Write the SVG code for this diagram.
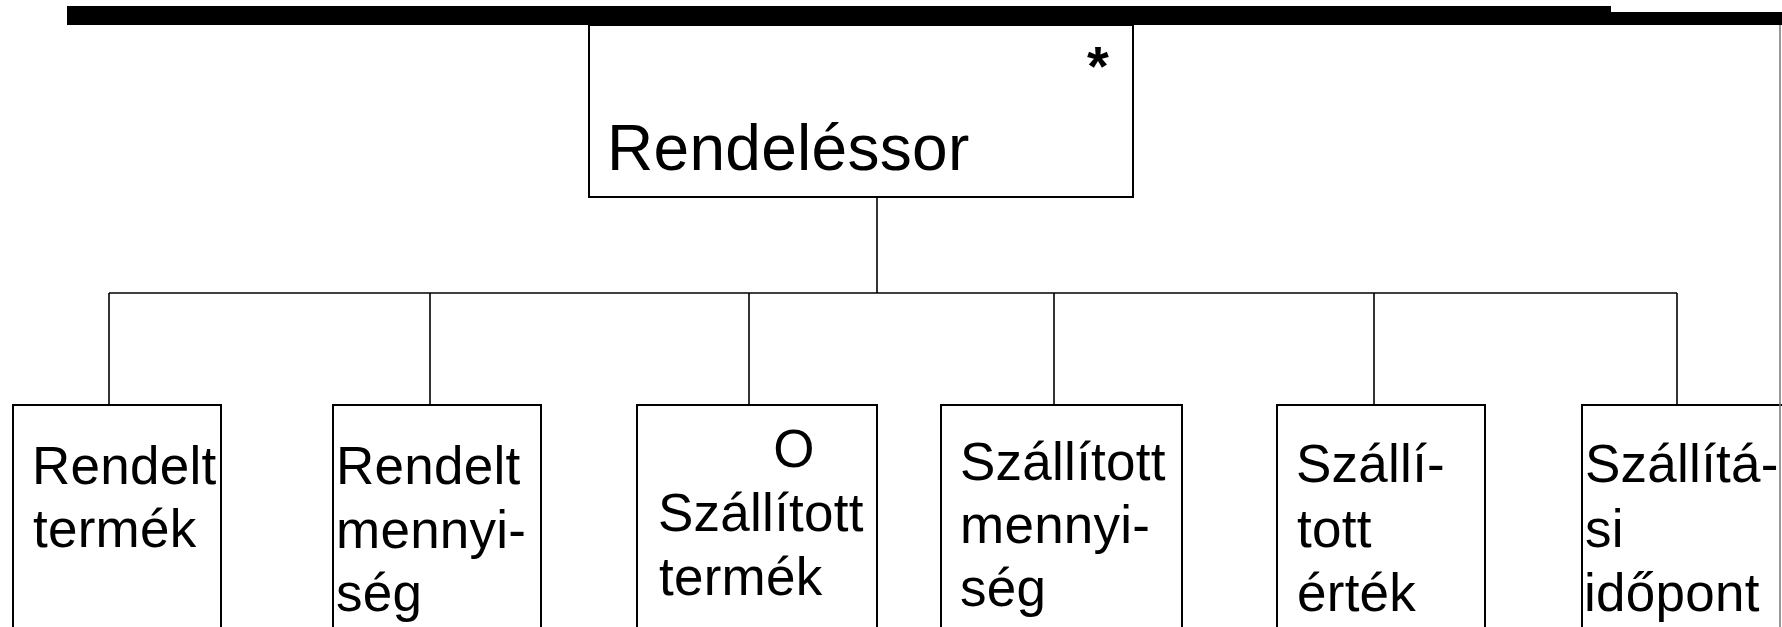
<svg xmlns="http://www.w3.org/2000/svg" width="1782" height="627" viewBox="0 0 1782 627">
  <style>
    .box { fill: #ffffff; stroke: #000000; stroke-width: 2; }
    .conn { fill: none; stroke: #000000; stroke-width: 1.6; }
    .lbl { font-family: "Liberation Sans", Arial, sans-serif; font-size: 53px; letter-spacing: 0.25px; fill: #000000; }
    .title { font-family: "Liberation Sans", Arial, sans-serif; font-size: 64px; letter-spacing: 0.3px; fill: #000000; }
    .mark { font-family: "Liberation Sans", Arial, sans-serif; font-size: 56px; font-weight: bold; fill: #000000; }
  </style>
  <rect width="1782" height="627" fill="#ffffff"/>

  <!-- heading bar -->
  <g id="header-bar">
    <rect x="67" y="6" width="1544" height="19" fill="#000000"/>
    <rect x="1610" y="12" width="172" height="13" fill="#000000"/>
  </g>

  <!-- connectors -->
  <g id="connectors">
    <path class="conn" d="M877 198 V293"/>
    <path class="conn" d="M109 293 H1677"/>
    <path class="conn" d="M109 293 V405"/>
    <path class="conn" d="M430 293 V405"/>
    <path class="conn" d="M749 293 V405"/>
    <path class="conn" d="M1054 293 V405"/>
    <path class="conn" d="M1374 293 V405"/>
    <path class="conn" d="M1677 293 V405"/>
  </g>

  <!-- root entity -->
  <g id="node-rendelessor">
    <rect class="box" x="589" y="25" width="544" height="172"/>
    <text class="mark" x="1098" y="85" text-anchor="middle">*</text>
    <text class="title" x="607" y="170">Rendeléssor</text>
  </g>

  <!-- child attributes -->
  <g id="node-rendelt-termek">
    <rect class="box" x="13" y="405" width="208" height="240"/>
    <text class="lbl" x="32" y="484">Rendelt</text>
    <text class="lbl" x="33" y="547">termék</text>
  </g>

  <g id="node-rendelt-mennyiseg">
    <rect class="box" x="333" y="405" width="208" height="240"/>
    <text class="lbl" x="336" y="484">Rendelt</text>
    <text class="lbl" x="336" y="548">mennyi-</text>
    <text class="lbl" x="336" y="611">ség</text>
  </g>

  <g id="node-szallitott-termek">
    <rect class="box" x="637" y="405" width="240" height="240"/>
    <text class="lbl" x="794" y="467" text-anchor="middle">O</text>
    <text class="lbl" x="658" y="531">Szállított</text>
    <text class="lbl" x="659" y="595">termék</text>
  </g>

  <g id="node-szallitott-mennyiseg">
    <rect class="box" x="941" y="405" width="241" height="240"/>
    <text class="lbl" x="960" y="480">Szállított</text>
    <text class="lbl" x="960" y="543">mennyi-</text>
    <text class="lbl" x="960" y="606">ség</text>
  </g>

  <g id="node-szallitott-ertek">
    <rect class="box" x="1277" y="405" width="208" height="240"/>
    <text class="lbl" x="1296" y="482">Szállí-</text>
    <text class="lbl" x="1297" y="547">tott</text>
    <text class="lbl" x="1297" y="611">érték</text>
  </g>

  <g id="node-szallitasi-idopont">
    <rect class="box" x="1582" y="405" width="220" height="240"/>
    <text class="lbl" x="1585" y="482">Szállítá-</text>
    <text class="lbl" x="1585" y="547">si</text>
    <text class="lbl" x="1584" y="611">időpont</text>
  </g>

  <!-- right frame edge -->
  <path d="M1780 25 V627" fill="none" stroke="#777777" stroke-width="1.5"/>
</svg>
